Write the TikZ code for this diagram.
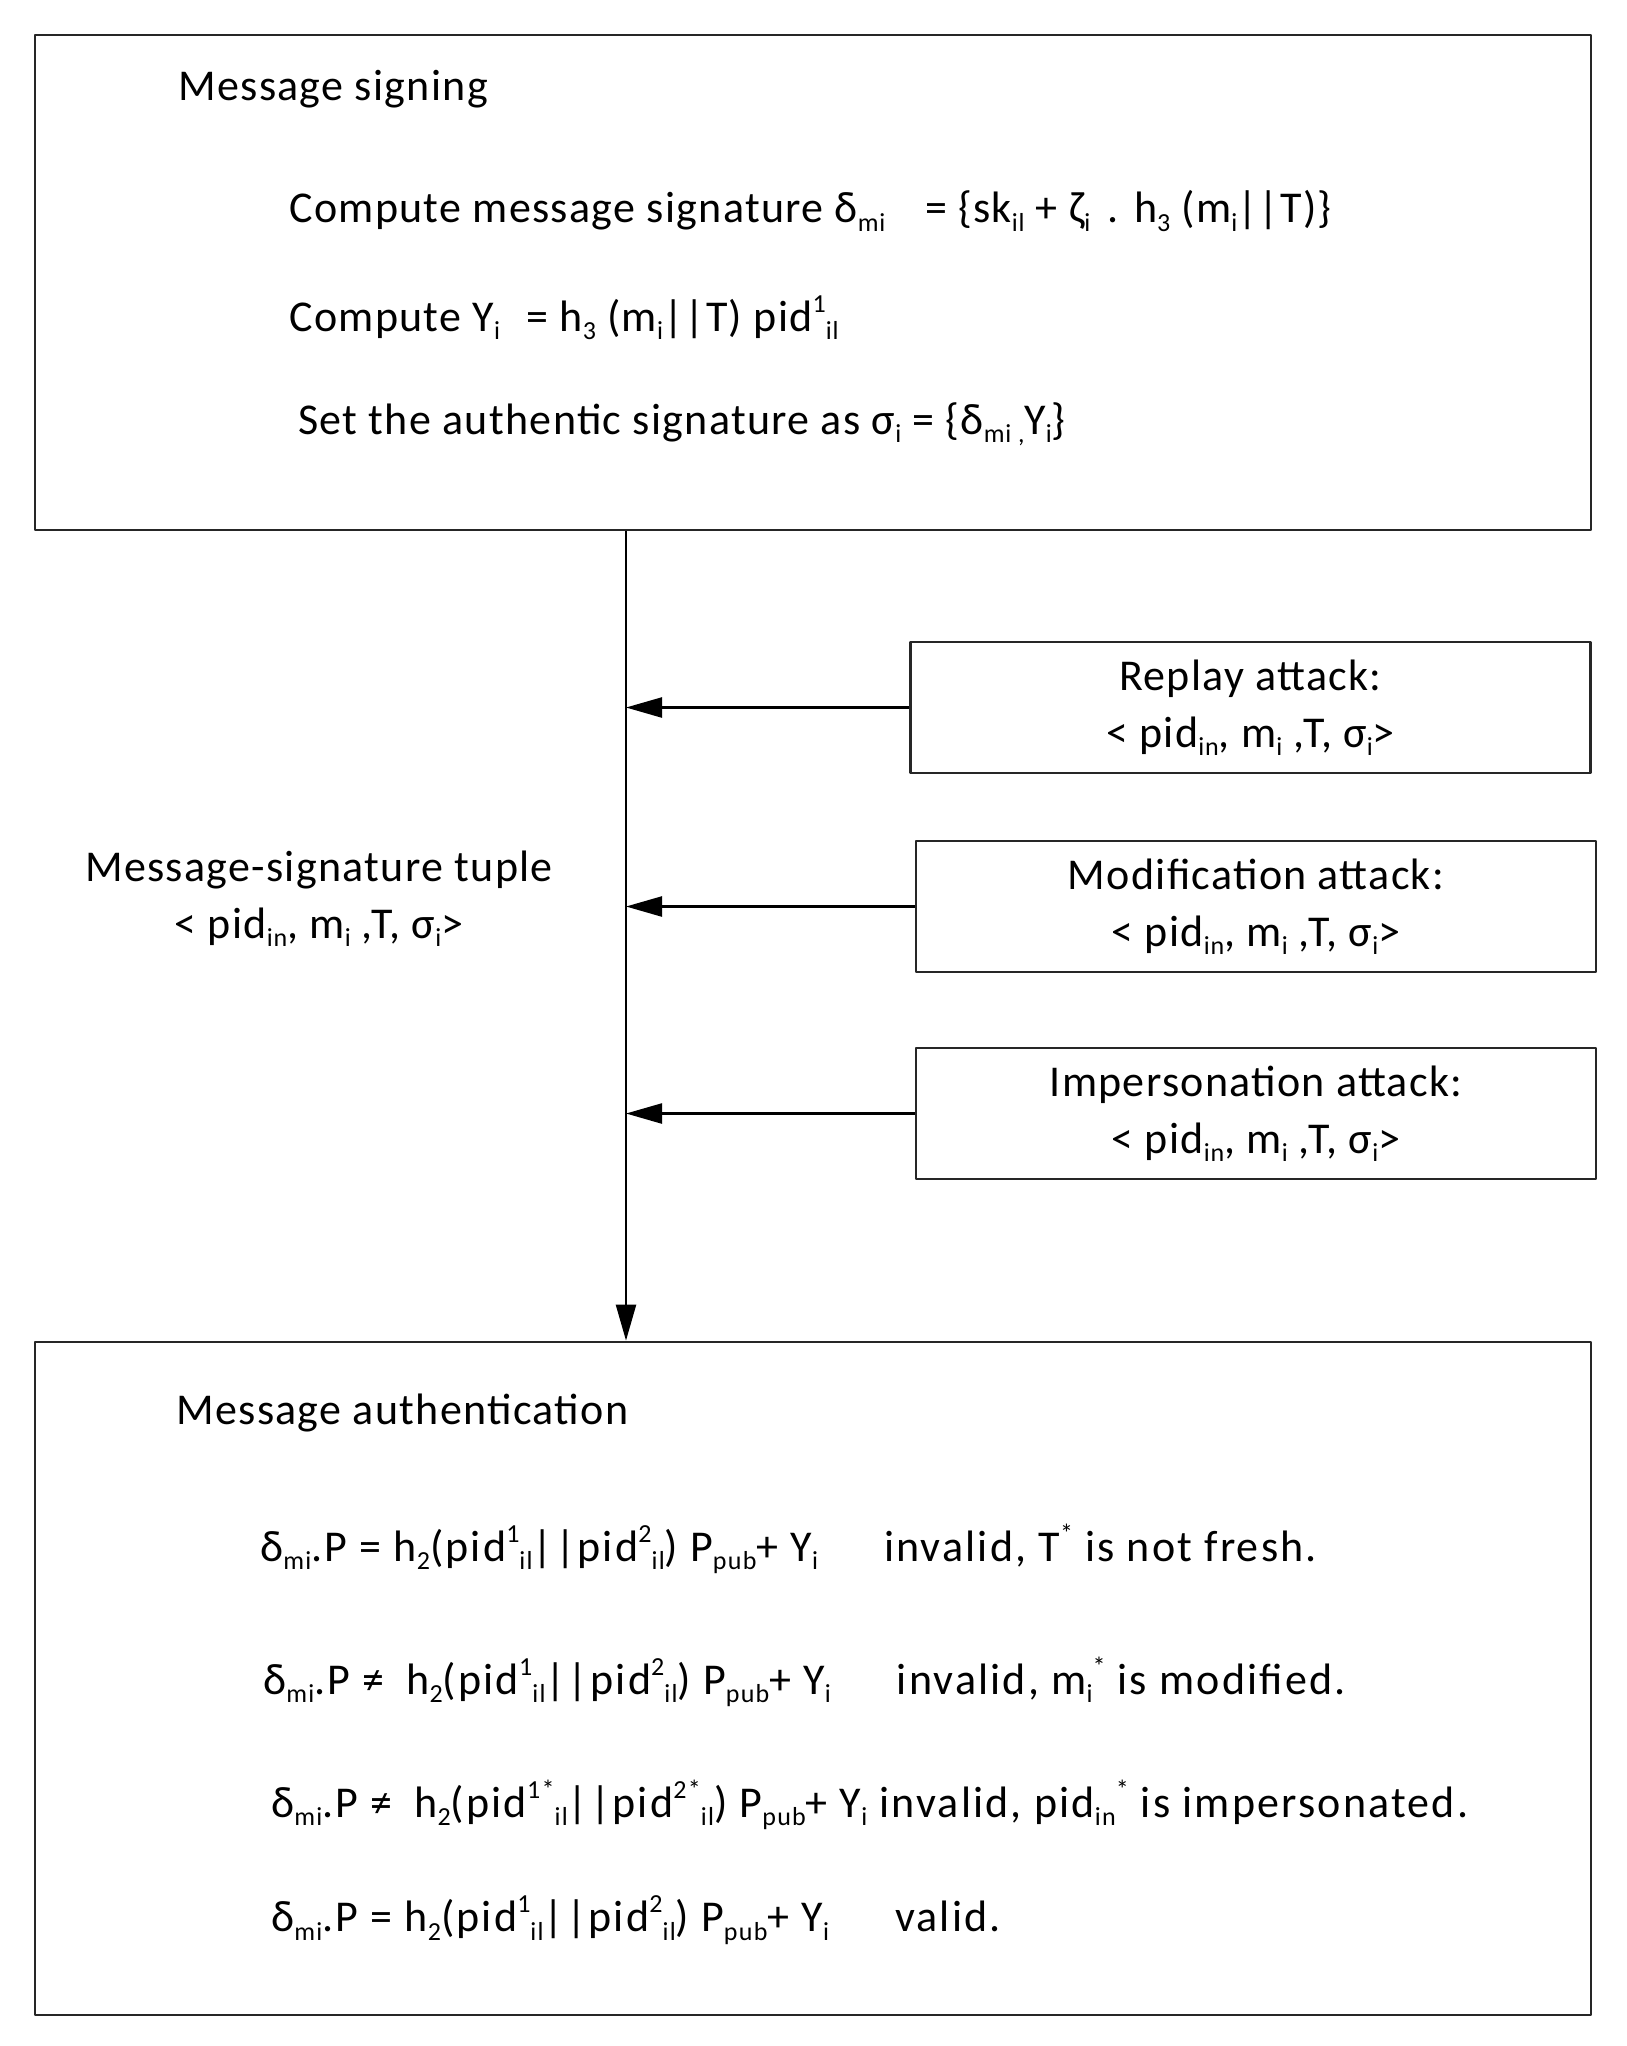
\documentclass[tikz,border=0pt]{standalone}
\usepackage{fontspec}
\setmainfont{Carlito}[LetterSpace=3]
\usetikzlibrary{arrows.meta}
\newcommand\sbs[1]{\raisebox{-0.4ex}{\fontsize{13}{13}\selectfont #1}}
\newcommand\sps[1]{\raisebox{0.9ex}{\fontsize{13}{13}\selectfont #1}}
\begin{document}
\begin{tikzpicture}[x=0.5pt,y=-0.5pt,>={Triangle[length=18pt,width=10pt]},line join=round,
    font=\fontsize{22}{28.5}\selectfont,
    box/.style={draw=black!85,line width=1.4pt,minimum width=778pt},
    attack/.style={draw=black!85,line width=1.4pt,minimum width=340pt,minimum height=65.5pt,align=center},
    txt/.style={anchor=west,inner sep=0pt},
    check/.style={txt,font=\fontsize{22}{28.5}\selectfont\addfontfeatures{LetterSpace=5}}]
    \useasboundingbox (0,0) rectangle (1627,2046);
    % two main boxes
    \node[box,minimum height=247.5pt] (sign) at (813,282.5) {};
    \node[box,minimum height=336.5pt] (auth) at (813,1678.5) {};
    \coordinate (trunk) at (626,0);
    \draw[->,line width=1.2pt] (sign.south -| trunk) -- (auth.north -| trunk);
    % signing
    \node[txt] (signT) at (178,89) {Message signing};
    \node[txt] (sig1) at (289,211) {Compute message signature δ\sbs{mi}\hspace{0.9em}= \{sk\sbs{il} + ζ\sbs{i}\hspace{0.4em}. h\sbs{3} (m\sbs{i}||T)\}};
    \node[txt] (sig2) at (289,318) {Compute Y\sbs{i}\hspace{0.6em}= h\sbs{3} (m\sbs{i}||T) pid\sps{1}\sbs{il}};
    \node[txt] (sig3) at (298,424) {Set the authentic signature as σ\sbs{i} = \{δ\sbs{mi ,}Y\sbs{i}\}};
    % tuple
    \node[align=center,inner sep=0pt] (tuple) at (319,898.5) {Message-signature tuple\\< pid\sbs{in}, m\sbs{i} ,T, σ\sbs{i}>};
    % attacks
    \foreach \nm/\lbl/\cx/\cy in {replay/Replay/1250.5/707.5,modif/Modification/1256/906.5,imper/Impersonation/1256/1113.5}{
        \node[attack] (\nm) at (\cx,\cy) {\lbl{} attack:\\< pid\sbs{in}, m\sbs{i} ,T, σ\sbs{i}>};
        \draw[->,line width=1.2pt] (\nm.west) -- (\nm.west -| trunk);
    }
    % authentication
    \node[txt] (authT) at (176,1413) {Message authentication};
    \node[check] (ver1) at (260,1549) {δ\sbs{mi}.P = h\sbs{2}(pid\sps{1}\sbs{il}||pid\sps{2}\sbs{il}) P\sbs{pub}+ Y\sbs{i}\hspace{1.5em}invalid, T\sps{*} is not fresh.};
    \node[check] (ver2) at (263,1682) {δ\sbs{mi}.P ≠\hspace{0.5em}h\sbs{2}(pid\sps{1}\sbs{il}||pid\sps{2}\sbs{il}) P\sbs{pub}+ Y\sbs{i}\hspace{1.5em}invalid, m\sbs{i}\sps{*} is modified.};
    \node[check] (ver3) at (271,1805) {δ\sbs{mi}.P ≠\hspace{0.5em}h\sbs{2}(pid\sps{1*}\sbs{il}||pid\sps{2*}\sbs{il}) P\sbs{pub}+ Y\sbs{i} invalid, pid\sbs{in}\sps{*} is impersonated.};
    \node[check] (ver4) at (271,1920) {δ\sbs{mi}.P = h\sbs{2}(pid\sps{1}\sbs{il}||pid\sps{2}\sbs{il}) P\sbs{pub}+ Y\sbs{i}\hspace{1.5em}valid.};
\end{tikzpicture}
\end{document}
